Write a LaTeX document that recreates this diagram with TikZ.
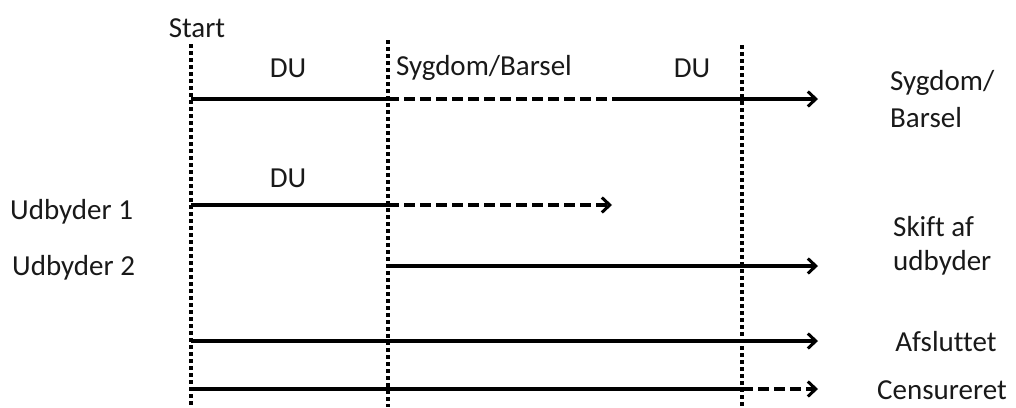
\documentclass[tikz,border=0pt]{standalone}
\usepackage{fontspec}
\setmainfont{Carlito}[Ligatures=NoCommon]
\usetikzlibrary{arrows.meta}
\begin{document}
\begin{tikzpicture}[x=1pt,y=-1pt,
  lbl/.style={font=\fontsize{29}{35}\selectfont, inner sep=0pt, text=black!90},
  vline/.style={line width=3.5pt, dash pattern=on 3.5pt off 3.5pt},
  seg/.style={line width=3.5pt},
  dseg/.style={line width=3.5pt, dash pattern=on 11pt off 5pt},
  arr/.style={-{Straight Barb[length=8pt,width=15pt,line width=3pt]}}
]
\useasboundingbox (0,0) rectangle (1016,407);
% vertical dotted lines
\coordinate (v1t) at (191,44); \coordinate (v1b) at (191,407);
\coordinate (v2t) at (388,40); \coordinate (v2b) at (388,407);
\coordinate (v3t) at (742,45); \coordinate (v3b) at (742,407);
\draw[vline] (v1t) -- (v1b);
\draw[vline] (v2t) -- (v2b);
\draw[vline] (v3t) -- (v3b);
% texts
\node[lbl] (start) at (197,28) {Start};
\node[lbl] (du1) at (288,68) {DU};
\node[lbl] (sb) at (484,68) {Sygdom/Barsel};
\node[lbl] (du2) at (692,68) {DU};
\node[lbl] (du3) at (288,178) {DU};
\node[lbl,anchor=west] (u1) at (10,212) {Udbyder 1};
\node[lbl,anchor=west] (u2) at (12,268) {Udbyder 2};
\node[lbl,anchor=west,align=left,font=\fontsize{29}{37}\selectfont] (r1) at (890,99) {Sygdom/\\Barsel};
\node[lbl,anchor=west,align=left,font=\fontsize{29}{34}\selectfont] (r2) at (893,246) {Skift af\\udbyder};
\node[lbl] (r3) at (946,342) {Afsluttet};
\node[lbl] (r4) at (942,390) {Censureret};
% row 1
\coordinate (a0) at (191,99); \coordinate (a1) at (388,99);
\coordinate (a2) at (612,99); \coordinate (a3) at (818,99);
\draw[seg] (a0) -- (a1);
\draw[dseg] (a1) -- (a2);
\draw[seg,arr] (a2) -- (a3);
% row 2
\coordinate (b0) at (191,205); \coordinate (b1) at (388,205);
\coordinate (b2) at (612,205);
\draw[seg] (b0) -- (b1);
\draw[dseg,arr] (b1) -- (b2);
% row 3
\coordinate (c0) at (388,266); \coordinate (c1) at (818,266);
\draw[seg,arr] (c0) -- (c1);
% row 4
\coordinate (d0) at (191,341); \coordinate (d1) at (818,341);
\draw[seg,arr] (d0) -- (d1);
% row 5
\coordinate (e0) at (191,389); \coordinate (e1) at (742,389);
\coordinate (e2) at (818,389);
\draw[seg] (e0) -- (e1);
\draw[dseg,arr] (e1) -- (e2);
\end{tikzpicture}
\end{document}
